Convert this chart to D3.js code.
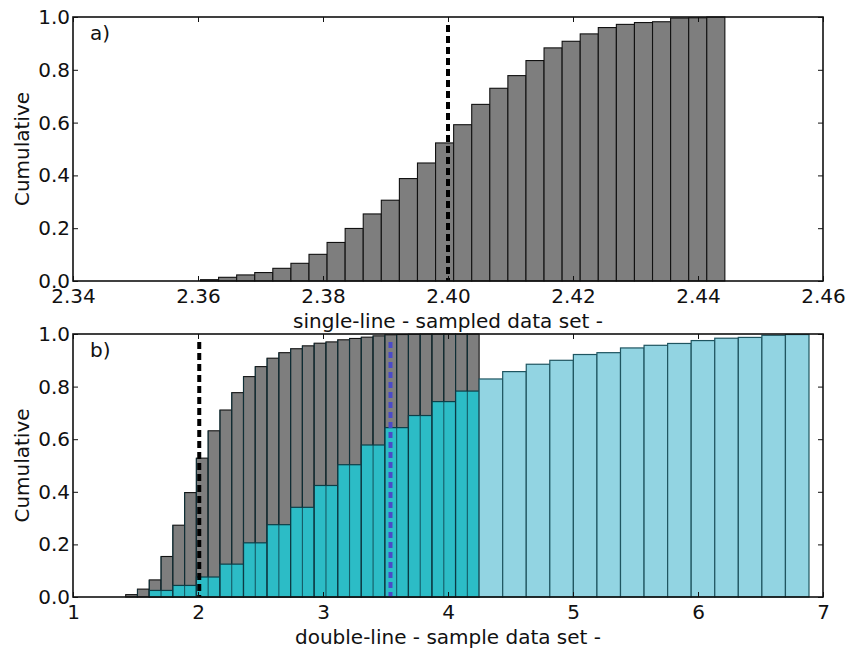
<!DOCTYPE html>
<html><head><meta charset="utf-8">
<script src="https://cdn.jsdelivr.net/npm/d3@7"></script>
<style>
html,body{margin:0;padding:0;background:#fff;}
text{font-family:"DejaVu Sans",sans-serif;fill:#111;}
</style></head>
<body>
<svg id="chart" width="847" height="650"></svg>
<script>
// ---- Data ----
// Panel a) single-line cumulative histogram
const aBinStart = 2.3604, aBinWidth = 0.002893;
const aValues = [0.005,0.014,0.023,0.032,0.048,0.067,0.101,0.146,0.199,0.254,0.306,0.388,0.447,0.523,0.592,0.669,0.730,0.778,0.835,0.883,0.908,0.936,0.960,0.972,0.979,0.982,0.996,0.997,1.0];
const aMarker = 2.40;
const aXTicks = [2.34,2.36,2.38,2.40,2.42,2.44,2.46];
const aXDomain = [2.34, 2.46];

// Panel b) double-line: gray (fine bins) and cyan (coarse bins)
const bGrayStart = 1.4215, bGrayWidth = 0.09425;
const bGrayValues = [0.009,0.030,0.065,0.154,0.273,0.397,0.528,0.632,0.711,0.777,0.838,0.876,0.908,0.929,0.944,0.955,0.965,0.970,0.978,0.983,0.988,0.993,0.997,0.998,0.999,1.0,1.0,1.0,1.0,1.0];
const bCyanStart = 1.610, bCyanWidth = 0.1885;
const bCyanValues = [0.025,0.044,0.076,0.125,0.206,0.275,0.341,0.424,0.503,0.578,0.644,0.690,0.743,0.783,0.829,0.857,0.885,0.900,0.922,0.929,0.947,0.957,0.964,0.975,0.984,0.987,0.995,0.998];
const bMarkerBlack = 2.01, bMarkerBlue = 3.54;
const bXTicks = [1,2,3,4,5,6,7];
const bXDomain = [1, 7];

const yTicks = [0.0,0.2,0.4,0.6,0.8,1.0];
const yLabel = "Cumulative";
const aXLabel = "single-line - sampled data set -";
const bXLabel = "double-line - sample data set -";

// ---- Drawing ----
const svg = d3.select("#chart");
const FS = 20;
const left = 73, right = 823;

function bins(start, width, values){
  return values.map((v,i)=>({x0:start+i*width, x1:start+(i+1)*width, v}));
}

function panel(top, bottom, xDomain, xTicks, xFmt, xLabel, tag){
  const g = svg.append("g");
  const x = d3.scaleLinear().domain(xDomain).range([left,right]);
  const y = d3.scaleLinear().domain([0,1]).range([bottom,top]);
  return {g,x,y,top,bottom,xTicks,xFmt,xLabel,tag};
}

function finishPanel(p, labelY, xLabelY){
  const {g,x,y,top,bottom} = p;
  g.append("rect").attr("x",left).attr("y",top).attr("width",right-left).attr("height",bottom-top)
    .attr("fill","none").attr("stroke","#111").attr("stroke-width",1.6);
  const ax = g.append("g").attr("transform",`translate(0,${bottom})`)
    .call(d3.axisBottom(x).tickValues(p.xTicks).tickFormat(p.xFmt).tickSizeInner(-5).tickSizeOuter(0).tickPadding(8));
  const axT = g.append("g").attr("transform",`translate(0,${top})`)
    .call(d3.axisTop(x).tickValues(p.xTicks).tickFormat("").tickSizeInner(-5).tickSizeOuter(0));
  const ay = g.append("g").attr("transform",`translate(${left},0)`)
    .call(d3.axisLeft(y).tickValues(yTicks).tickFormat(d3.format(".1f")).tickSizeInner(-5).tickSizeOuter(0).tickPadding(3));
  const ayR = g.append("g").attr("transform",`translate(${right},0)`)
    .call(d3.axisRight(y).tickValues(yTicks).tickFormat("").tickSizeInner(-5).tickSizeOuter(0));
  [ax,axT,ay,ayR].forEach(a=>{
    a.select(".domain").remove();
    a.selectAll("line").attr("stroke","#111").attr("stroke-width",1);
    a.selectAll("text").attr("font-size",FS).attr("font-family","DejaVu Sans").attr("fill","#111");
  });
  g.append("text").attr("transform",`translate(${labelY},${(top+bottom)/2}) rotate(-90)`)
    .attr("text-anchor","middle").attr("dy","0.35em").attr("font-size",FS).text(yLabel);
  g.append("text").attr("x",(left+right)/2).attr("y",xLabelY).attr("text-anchor","middle")
    .attr("dy","0.35em").attr("font-size",FS).text(p.xLabel);
  g.append("text").attr("x",left+17).attr("y",top+16).attr("dy","0.35em").attr("font-size",FS).text(p.tag);
}

function dashed(p, xv, color, dash){
  p.g.append("line").attr("x1",p.x(xv)).attr("x2",p.x(xv)).attr("y1",p.top+8).attr("y2",p.bottom)
    .attr("stroke",color).attr("stroke-width",4).attr("stroke-dasharray",dash);
}

// Panel a
const pa = panel(17, 281, aXDomain, aXTicks, d3.format(".2f"), aXLabel, "a)");
pa.g.selectAll("rect.bar").data(bins(aBinStart,aBinWidth,aValues)).join("rect").attr("class","bar")
  .attr("x",d=>pa.x(d.x0)).attr("width",d=>pa.x(d.x1)-pa.x(d.x0))
  .attr("y",d=>pa.y(d.v)).attr("height",d=>pa.y(0)-pa.y(d.v))
  .attr("fill","#7e7e7e").attr("stroke","#111").attr("stroke-width",1.1);
dashed(pa, aMarker, "#000", "7,4");
finishPanel(pa, 22, 321);

// Panel b
const pb = panel(334, 597, bXDomain, bXTicks, d3.format("d"), bXLabel, "b)");
const grayBins = bins(bGrayStart,bGrayWidth,bGrayValues);
const grayEnd = grayBins[grayBins.length-1].x1;
pb.g.selectAll("rect.gray").data(grayBins).join("rect").attr("class","gray")
  .attr("x",d=>pb.x(d.x0)).attr("width",d=>pb.x(d.x1)-pb.x(d.x0))
  .attr("y",d=>pb.y(d.v)).attr("height",d=>pb.y(0)-pb.y(d.v))
  .attr("fill","#7e7e7e").attr("stroke","#111").attr("stroke-width",1.1);
pb.g.selectAll("rect.cyan").data(bins(bCyanStart,bCyanWidth,bCyanValues)).join("rect").attr("class","cyan")
  .attr("x",d=>pb.x(d.x0)).attr("width",d=>pb.x(d.x1)-pb.x(d.x0))
  .attr("y",d=>pb.y(d.v)).attr("height",d=>pb.y(0)-pb.y(d.v))
  .attr("fill",d=>d.x1 <= grayEnd+1e-6 ? "#2cbcc6" : "#92d4e2")
  .attr("stroke",d=>d.x1 <= grayEnd+1e-6 ? "#0d3f48" : "#1f5560").attr("stroke-width",1.2);
// gray bin edges showing through the translucent cyan
pb.g.selectAll("line.edge").data(grayBins.slice(1)).join("line").attr("class","edge")
  .attr("x1",d=>pb.x(d.x0)).attr("x2",d=>pb.x(d.x0))
  .attr("y1",pb.y(0)).attr("y2",d=>pb.y(d.v))
  .attr("stroke","#0d3a44").attr("stroke-opacity",0.75).attr("stroke-width",1.1);
dashed(pb, bMarkerBlack, "#000", "7,4");
dashed(pb, bMarkerBlue, "#4a4ac8", "6,4");
finishPanel(pb, 22, 637);
</script>
</body></html>
